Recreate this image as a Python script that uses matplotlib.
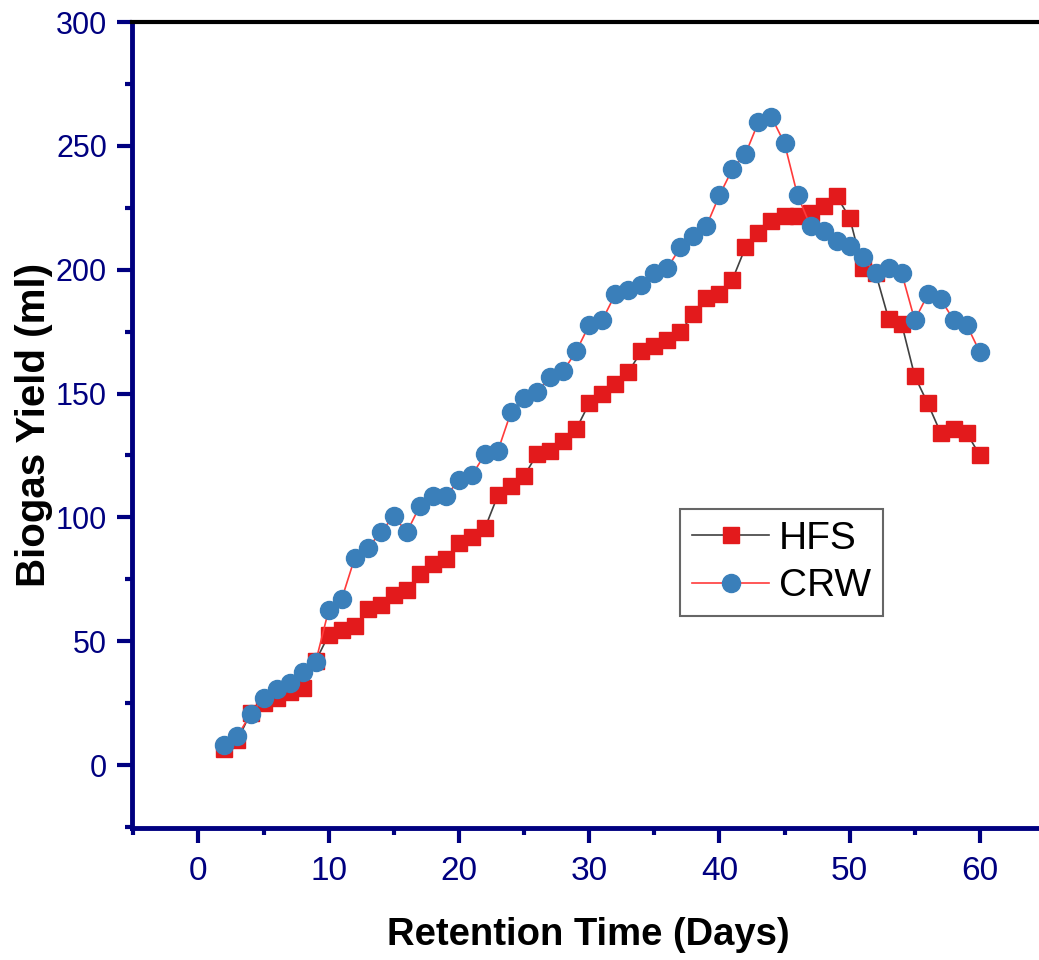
import matplotlib
matplotlib.use("Agg")
import matplotlib.pyplot as plt
from matplotlib.ticker import MultipleLocator

days = list(range(2, 61))
hfs = [6.5, 10, 21, 25, 27, 29.5, 31, 42, 52.5, 54.5, 56, 63, 64.5, 68.6, 70.6, 77, 81, 83,
       89.6, 92, 95.7, 109, 112.6, 116.7, 125.5, 127, 131, 135.6, 146, 150, 154, 158.6, 167,
       169, 171.5, 175, 182, 188.5, 190, 196, 209, 215, 219.6, 221.6, 221.6, 223, 225.6,
       229.7, 221, 200.6, 198.6, 180, 178, 157, 146, 134, 135.6, 134, 125]
crw = [8, 11.7, 20.6, 27, 30.7, 33, 37.5, 41.6, 62.6, 67, 83.6, 87.6, 94, 100.5, 94, 104.6,
       108.6, 108.6, 115, 117, 125.5, 127, 142.5, 148, 150.6, 156.6, 159, 167, 177.6, 179.6,
       190, 192, 194, 198.6, 200.6, 209, 213.6, 217.6, 230, 240.6, 246.7, 259.6, 261.6, 251,
       230, 217.6, 215.6, 211.5, 209.5, 205, 198.6, 200.6, 198.6, 179.6, 190, 188, 179.6,
       177.6, 166.7]

plt.rcParams['font.family'] = ['Liberation Sans', 'DejaVu Sans']
navy = '#000080'

fig = plt.figure(figsize=(10.39, 9.6), dpi=100)
ax = fig.add_axes([132/1039, 132/960, (1045-132)/1039, (828-22)/960])

ax.plot(days, hfs, color='#404040', lw=1.2, marker='s', ms=11.5, mfc='#e31a1c',
        mec='#e31a1c', label='HFS', zorder=3)
ax.plot(days, crw, color='#ff3b3b', lw=1.2, marker='o', ms=13, mfc='#3a7fba',
        mec='#3a7fba', label='CRW', zorder=4)

ax.set_xlim(-5.1, 65)
ax.set_ylim(-25.4, 300)
ax.xaxis.set_major_locator(MultipleLocator(10))
ax.xaxis.set_minor_locator(MultipleLocator(5))
ax.yaxis.set_major_locator(MultipleLocator(50))
ax.yaxis.set_minor_locator(MultipleLocator(25))

for s in ['left', 'bottom']:
    ax.spines[s].set_color(navy)
    ax.spines[s].set_linewidth(3.5)
ax.spines['top'].set_color('black')
ax.spines['top'].set_linewidth(3)
ax.spines['right'].set_visible(False)

ax.tick_params(which='major', direction='out', length=11, width=3, color=navy,
               labelcolor=navy, pad=7)
ax.tick_params(which='minor', direction='out', length=5, width=3, color=navy)
ax.tick_params(axis='y', labelsize=22)
ax.tick_params(axis='x', labelsize=24, pad=9)

ax.set_xlabel('Retention Time (Days)', fontsize=27.5, fontweight='bold', labelpad=22)
ax.set_ylabel('Biogas Yield (ml)', fontsize=29, fontweight='bold', labelpad=2)

leg = ax.legend(loc='upper left', bbox_to_anchor=(680/1039, 1 - 509/960),
                bbox_transform=fig.transFigure, fontsize=28, frameon=True, fancybox=False,
                handlelength=2.0, handletextpad=0.25, borderpad=0.3, labelspacing=0.3,
                borderaxespad=0)
leg.get_frame().set_edgecolor('#404040')
leg.get_frame().set_linewidth(1.5)

fig.savefig('out.png', dpi=100)
